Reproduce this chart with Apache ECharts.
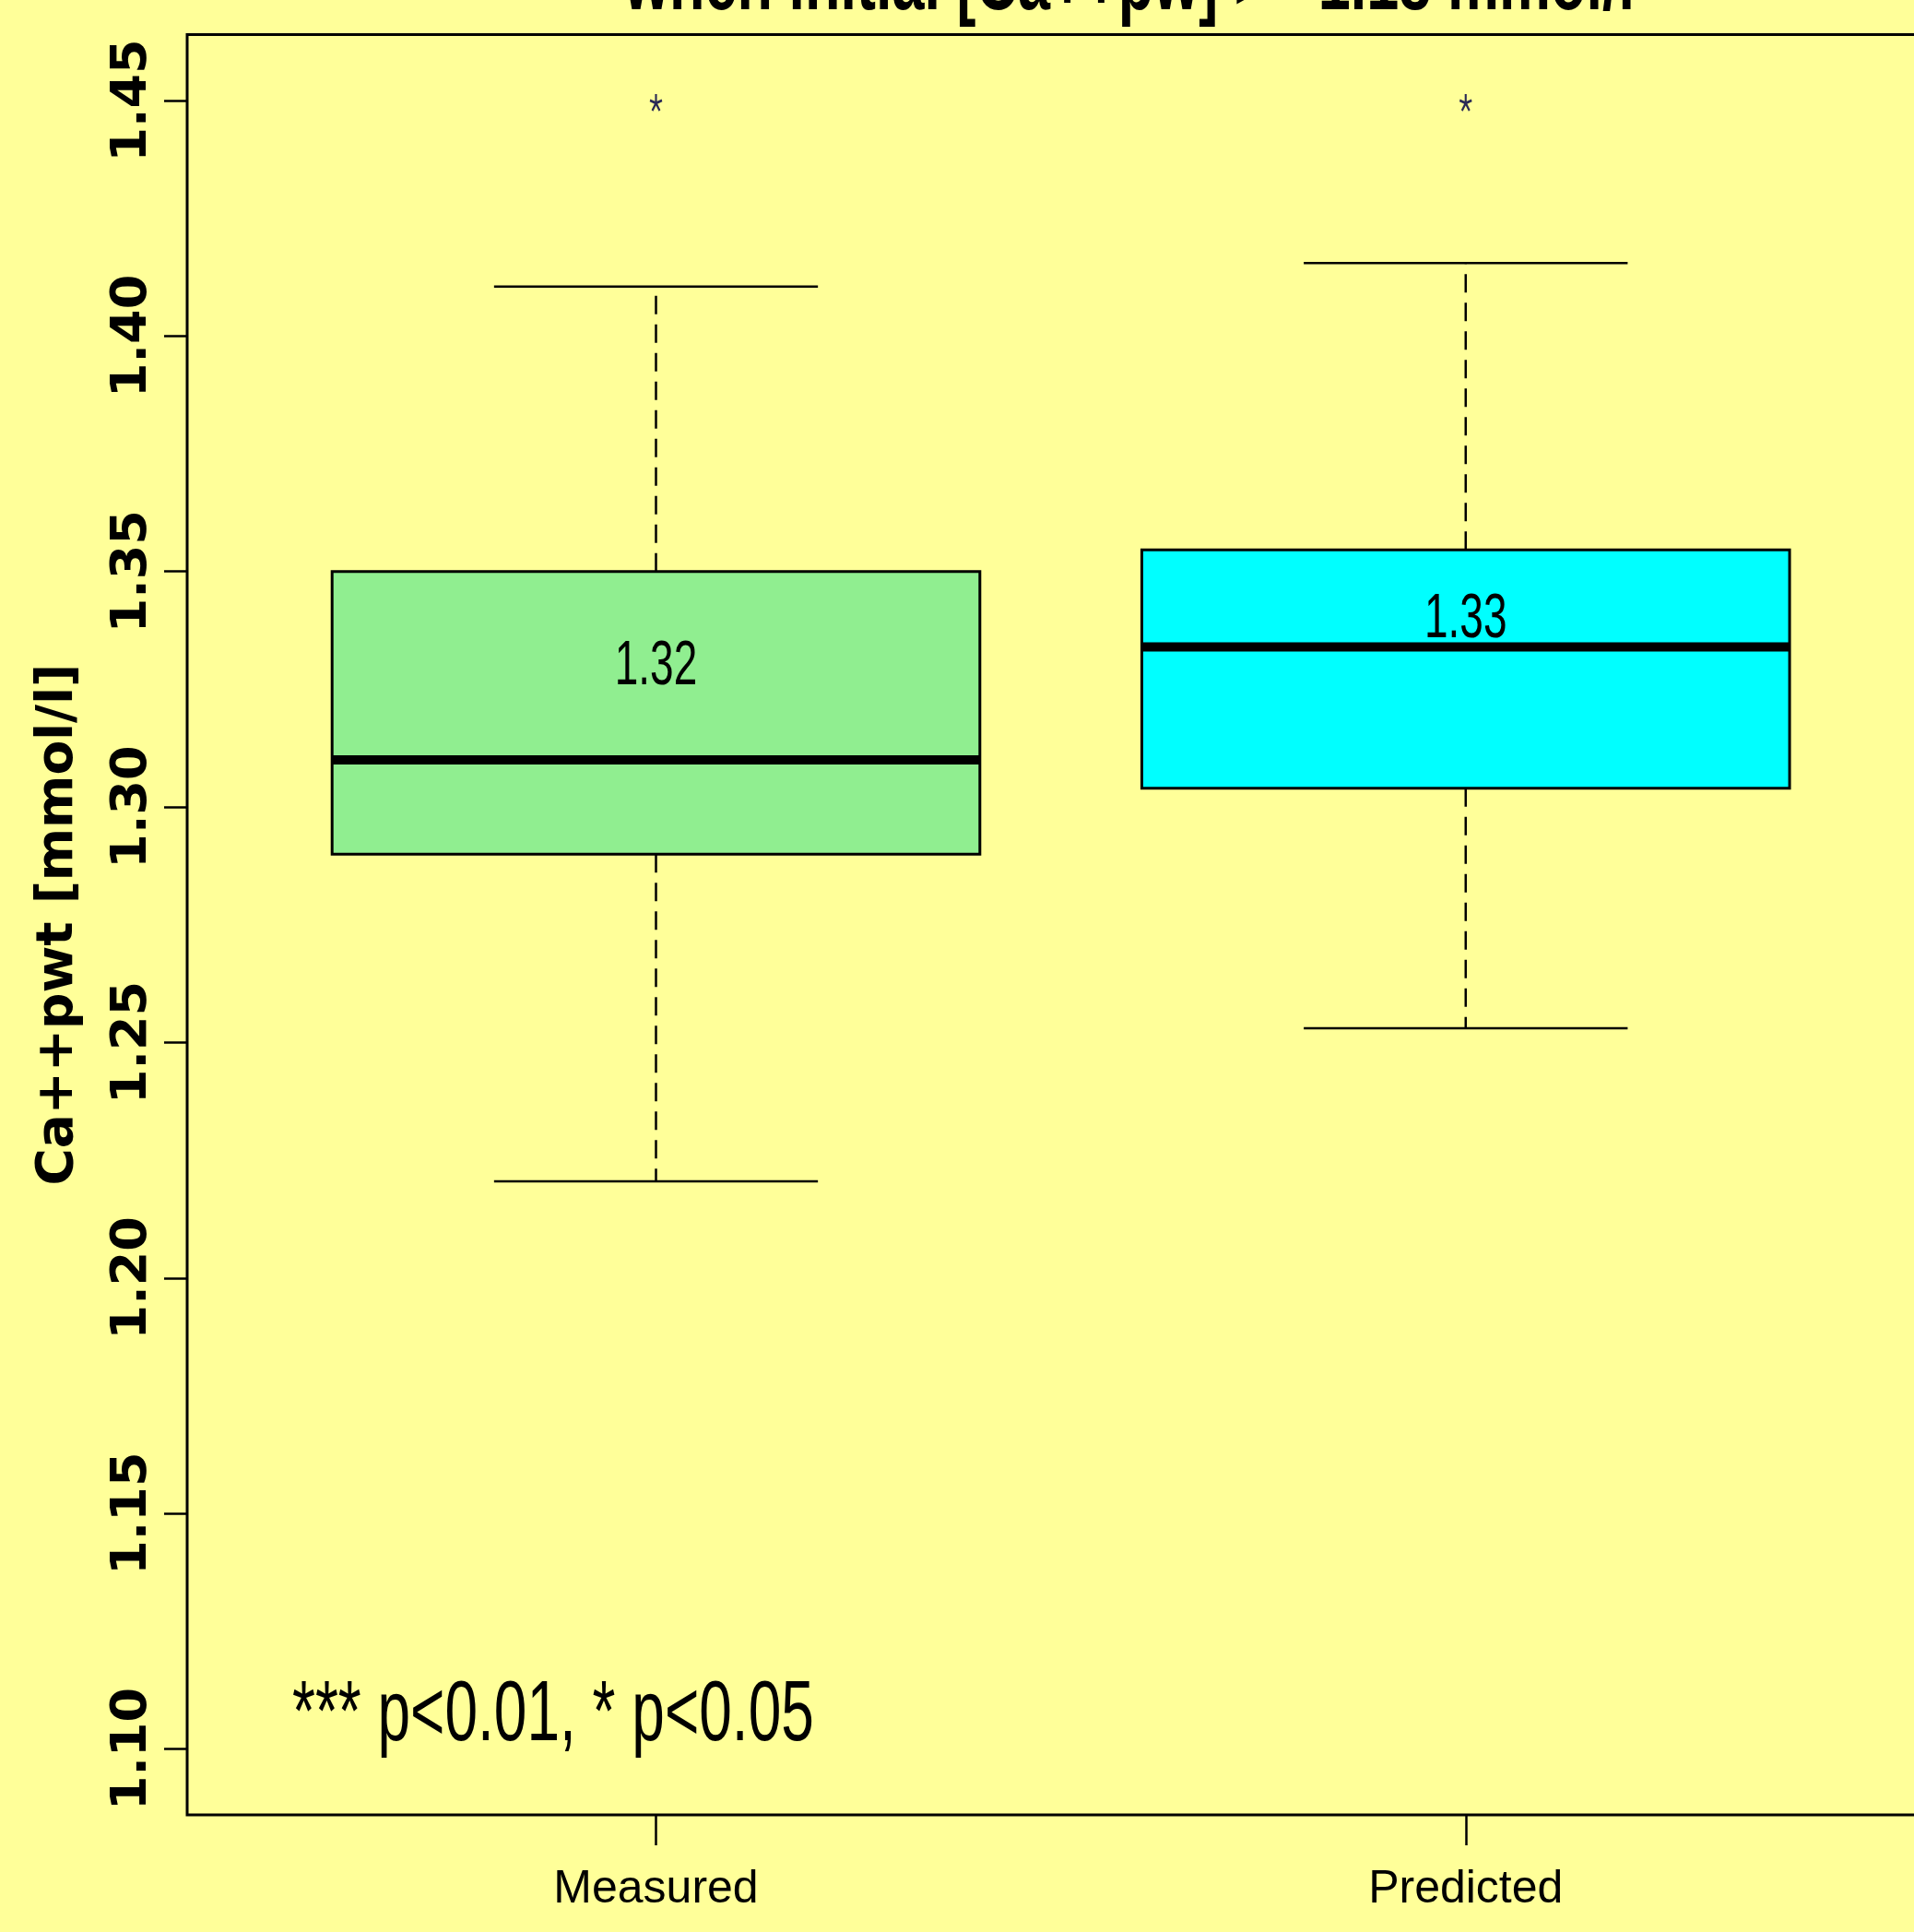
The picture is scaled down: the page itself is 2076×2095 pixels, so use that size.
<!DOCTYPE html>
<html>
<head>
<meta charset="utf-8">
<script src="https://cdn.jsdelivr.net/npm/echarts@6/dist/echarts.min.js"></script>
<style>
  html, body { margin: 0; padding: 0; background: #FFFF99; }
  #chart { width: 2076px; height: 2095px; }
</style>
</head>
<body>
<div id="chart"></div>
<script>
// ---------------- data ----------------
const categories   = ['Measured', 'Predicted'];
const lowerWhisker = [1.2205, 1.2530];
const lowerHinge   = [1.2900, 1.3040];
const medians      = [1.3100, 1.3340];
const upperHinge   = [1.3500, 1.3546];
const upperWhisker = [1.4105, 1.4155];
const means        = [1.32, 1.33];
const outliers     = [1.45, 1.45];
const yTicks       = [1.10, 1.15, 1.20, 1.25, 1.30, 1.35, 1.40, 1.45];
const xTicks       = [1, 2];
const titleText    = 'when initial [Ca++pw] >= 1.18 mmol/l';
const yAxisTitle   = 'Ca++pwt [mmol/l]';
const noteText     = '*** p<0.01, * p<0.05';

// ---------------- styles ----------------
const boxFill = ['#90EE90', '#00FFFF'];

function fontAvailable(name) {
  const c = document.createElement('canvas').getContext('2d');
  c.font = '100px monospace';
  const w0 = c.measureText('Measured Predicted').width;
  c.font = '100px "' + name + '", monospace';
  const w1 = c.measureText('Measured Predicted').width;
  return Math.abs(w0 - w1) > 0.5;
}
const hasNarrow = fontAvailable('Liberation Sans Narrow');
const xLabelFont = hasNarrow
  ? { family: '"Liberation Sans Narrow", "Liberation Sans", Arial, sans-serif', size: 57 }
  : { family: '"Liberation Sans", Arial, sans-serif', size: 50 };

const boxData = categories.map((c, i) => [i + 1, lowerWhisker[i], lowerHinge[i], medians[i], upperHinge[i], upperWhisker[i], means[i]]);
const outlierData = outliers.map((v, i) => [i + 1, v]);

const chart = echarts.init(document.getElementById('chart'), null, { renderer: 'canvas' });

function renderBox(params, api) {
  const i = params.dataIndex;
  const x = api.value(0);
  const pLow = api.coord([x, api.value(1)]);
  const pQ1 = api.coord([x, api.value(2)]);
  const pMed = api.coord([x, api.value(3)]);
  const pQ3 = api.coord([x, api.value(4)]);
  const pHigh = api.coord([x, api.value(5)]);
  const pMean = api.coord([x, api.value(6)]);
  const halfBox = api.size([0.4, 0])[0];
  const halfCap = api.size([0.2, 0])[0];
  const cx = pLow[0];
  const dash = { stroke: '#000', lineWidth: 2.5, lineDash: [20, 11], fill: null };
  const solid = { stroke: '#000', lineWidth: 2.5, fill: null };
  return {
    type: 'group',
    children: [
      { type: 'line', shape: { x1: cx, y1: pQ3[1], x2: cx, y2: pHigh[1] }, style: dash },
      { type: 'line', shape: { x1: cx, y1: pQ1[1], x2: cx, y2: pLow[1] }, style: dash },
      { type: 'line', shape: { x1: cx - halfCap, y1: pHigh[1], x2: cx + halfCap, y2: pHigh[1] }, style: solid },
      { type: 'line', shape: { x1: cx - halfCap, y1: pLow[1], x2: cx + halfCap, y2: pLow[1] }, style: solid },
      { type: 'rect', shape: { x: cx - halfBox, y: pQ3[1], width: 2 * halfBox, height: pQ1[1] - pQ3[1] },
        style: { fill: boxFill[i], stroke: '#000', lineWidth: 3 } },
      { type: 'line', shape: { x1: cx - halfBox, y1: pMed[1], x2: cx + halfBox, y2: pMed[1] },
        style: { stroke: '#000', lineWidth: 10 } },
      { type: 'text', x: cx, y: pMean[1] - 50, scaleY: 1.5,
        style: { text: api.value(6).toFixed(2), fill: '#000', font: '46px "Liberation Sans", Arial, sans-serif',
                 align: 'center', verticalAlign: 'middle' } }
    ]
  };
}

const option = {
  backgroundColor: '#FFFF99',
  animation: false,
  grid: {
    left: 203, top: 37.5, right: -17, bottom: 127,
    show: true, borderColor: '#000', borderWidth: 3, backgroundColor: 'transparent',
    containLabel: false, outerBoundsMode: 'none'
  },
  xAxis: {
    type: 'value', min: 0.421, max: 2.573,
    axisLine: { show: false },
    splitLine: { show: false },
    axisTick: { show: true, customValues: xTicks, length: 33, lineStyle: { color: '#000', width: 2.5 } },
    axisLabel: {
      customValues: xTicks, margin: 56,
      formatter: v => categories[Math.round(v) - 1],
      fontFamily: xLabelFont.family, fontSize: xLabelFont.size, color: '#000'
    }
  },
  yAxis: {
    type: 'value', min: 1.086, max: 1.464,
    axisLine: { show: false },
    splitLine: { show: false },
    axisTick: { show: true, customValues: yTicks, length: 25, lineStyle: { color: '#000', width: 2.5 } },
    axisLabel: {
      customValues: yTicks, rotate: 90, margin: 32,
      formatter: v => v.toFixed(2),
      fontFamily: '"DejaVu Sans", sans-serif', fontWeight: 'bold', fontSize: 54, color: '#000'
    },
    name: yAxisTitle, nameLocation: 'middle', nameGap: 112, nameRotate: 90,
    nameTextStyle: { fontFamily: '"DejaVu Sans", sans-serif', fontWeight: 'bold', fontSize: 55, color: '#000' }
  },
  series: [
    {
      type: 'custom', name: 'box', silent: true,
      renderItem: renderBox,
      encode: { x: 0, y: [1, 2, 3, 4, 5, 6] },
      data: boxData
    },
    {
      type: 'scatter', name: 'outliers', silent: true,
      symbol: 'path://M0,-10L0,0M9.51,-3.09L0,0M5.88,8.09L0,0M-5.88,8.09L0,0M-9.51,-3.09L0,0',
      symbolSize: [13, 18], symbolOffset: [0, 2],
      itemStyle: { color: 'rgba(0,0,0,0)', borderColor: '#2a2a55', borderWidth: 2.5, opacity: 1 },
      data: outlierData
    }
  ],
  graphic: [
    { type: 'text', x: 1225, y: -15, scaleY: 1.43, silent: true,
      style: { text: titleText, font: 'bold 63px "Liberation Sans", Arial, sans-serif', fill: '#000',
               align: 'center', verticalAlign: 'middle' } },
    { type: 'text', x: 317, y: 1861, scaleY: 1.45, silent: true,
      style: { text: noteText, font: '64px "Liberation Sans", Arial, sans-serif', fill: '#000',
               align: 'left', verticalAlign: 'middle' } }
  ]
};
chart.setOption(option);
</script>
</body>
</html>
